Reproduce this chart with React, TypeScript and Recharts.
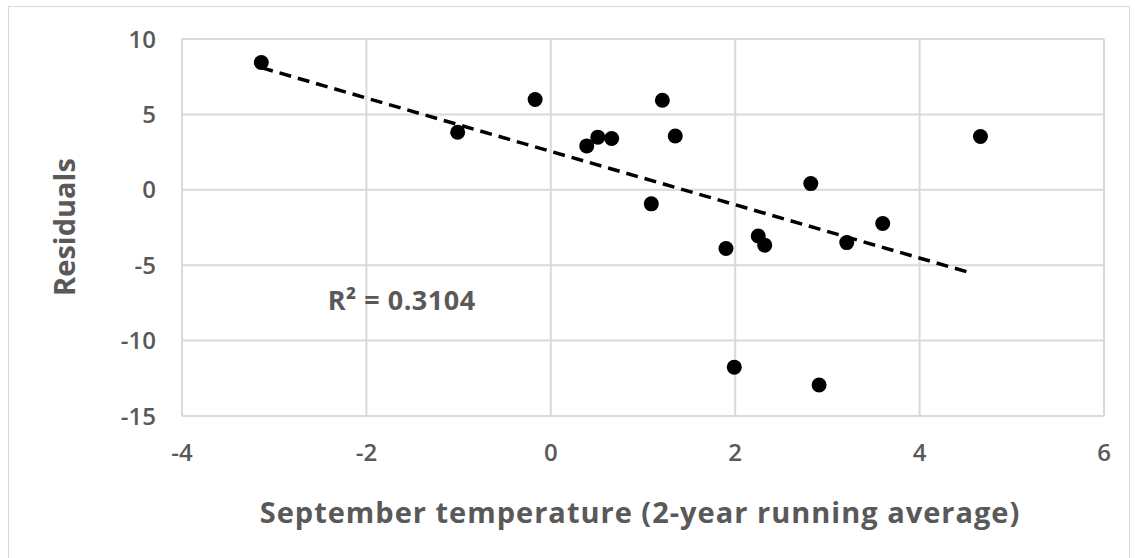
import React from "react";
import {
  ScatterChart,
  Scatter,
  XAxis,
  YAxis,
  CartesianGrid,
  ReferenceLine,
  ReferenceDot,
} from "recharts";

// September temperature (2-yr running avg) vs residuals
const temps = [
  -3.14, -1.01, -0.17, 0.39, 0.51, 0.66, 1.21, 1.35, 1.09, 1.9, 1.99, 2.25,
  2.32, 2.82, 2.91, 3.21, 3.6, 4.66,
];
const residuals = [
  8.44, 3.82, 5.99, 2.91, 3.49, 3.4, 5.94, 3.57, -0.93, -3.89, -11.76, -3.06,
  -3.67, 0.41, -12.94, -3.5, -2.23, 3.53,
];

// linear trendline endpoints
const trendStart = { x: -3.14, y: 8.1 };
const trendEnd = { x: 4.55, y: -5.5 };
const rSquared = "R² = 0.3104";

const xTicks = [-4, -2, 0, 2, 4, 6];
const yTicks = [10, 5, 0, -5, -10, -15];

const points = temps.map((t, i) => ({ x: t, y: residuals[i] }));

const FONT = "'Open Sans', sans-serif";
const TEXT = "#595959";
const GRID = "#d9d9d9";

export default function App() {
  return (
    <div style={{ position: "absolute", left: 0, top: 0, width: 1135, height: 558, background: "#fff" }}>
      <div
        style={{
          position: "absolute",
          left: 8,
          top: 6,
          width: 1122,
          height: 560,
          border: `1px solid ${GRID}`,
          boxSizing: "border-box",
        }}
      />
      <div style={{ position: "absolute", left: 0, top: 0 }}>
        <ScatterChart
          width={1135}
          height={558}
          margin={{ top: 39, right: 31, bottom: 0, left: 112 }}
        >
          <CartesianGrid stroke={GRID} strokeWidth={2} horizontalValues={yTicks} verticalValues={xTicks} />
          <XAxis
            type="number"
            dataKey="x"
            domain={[-4, 6]}
            ticks={xTicks}
            axisLine={false}
            tickLine={false}
            tickSize={0}
            tickMargin={28}
            height={142}
            tick={{ fill: TEXT, fontSize: 24, fontFamily: FONT, fontWeight: 600 }}
            label={(props: any) => {
              const vb = props.viewBox;
              return (
                <text
                  x={vb.x + vb.width / 2 - 3}
                  y={523}
                  textAnchor="middle"
                  fill={TEXT}
                  fontSize={29}
                  fontFamily={FONT}
                  fontWeight={700}
                  letterSpacing={1}
                >
                  September temperature (2-year running average)
                </text>
              );
            }}
          />
          <YAxis
            type="number"
            dataKey="y"
            domain={[-15, 10]}
            ticks={yTicks}
            axisLine={false}
            tickLine={false}
            tickSize={0}
            tickMargin={26}
            width={70}
            tick={{ fill: TEXT, fontSize: 24, fontFamily: FONT, fontWeight: 600 }}
            label={() => {
              const cy = 227;
              return (
                <text
                  x={63}
                  y={cy}
                  transform={`rotate(-90, 63, ${cy})`}
                  textAnchor="middle"
                  dominantBaseline="central"
                  fill={TEXT}
                  fontSize={29}
                  fontFamily={FONT}
                  fontWeight={700}
                >
                  Residuals
                </text>
              );
            }}
          />
          <ReferenceLine
            segment={[trendStart, trendEnd]}
            stroke="#000"
            strokeWidth={3.5}
            strokeDasharray="12 7"
          />
          <Scatter
            data={points}
            fill="#000"
            isAnimationActive={false}
            shape={(p: any) => <circle cx={p.cx} cy={p.cy} r={7.5} fill="#000" />}
          />
          <ReferenceDot
            x={-2.42}
            y={-7.3}
            r={0}
            shape={(p: any) => (
              <text
                x={p.cx}
                y={p.cy}
                dominantBaseline="central"
                fill={TEXT}
                fontSize={27}
                fontFamily={FONT}
                fontWeight={700}
                letterSpacing={0.5}
              >
                {rSquared}
              </text>
            )}
          />
        </ScatterChart>
      </div>
    </div>
  );
}
